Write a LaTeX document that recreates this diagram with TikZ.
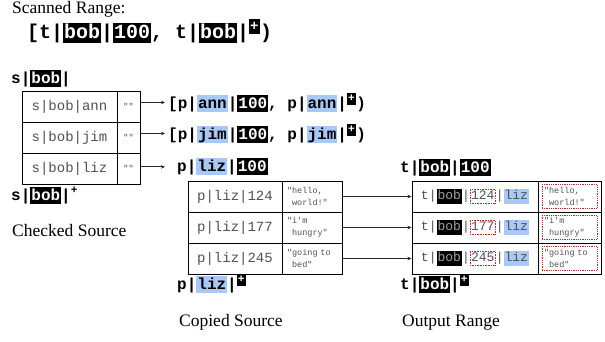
\documentclass[tikz,border=0pt]{standalone}
\usepackage{fontspec}
\setmainfont{Liberation Serif}
\setmonofont{Liberation Mono}
\usetikzlibrary{positioning, arrows.meta}

\definecolor{keyblue}{HTML}{A8C8F8}
\definecolor{celltext}{HTML}{505050}
\definecolor{bobgray}{HTML}{A0A0A0}
\definecolor{dotred}{HTML}{C8282D}

\newcommand{\fnttitle}{\fontsize{20}{24}\selectfont\ttfamily\bfseries}
\newcommand{\fnthead}{\fontsize{16}{19}\selectfont\ttfamily\bfseries}
\newcommand{\fntkey}{\fontsize{14}{17}\selectfont\ttfamily}
\newcommand{\fntout}{\fontsize{13}{16}\selectfont\ttfamily}
\newcommand{\fntval}{\fontsize{8.5}{12}\selectfont\ttfamily}
\newcommand{\fntcap}{\fontsize{17.5}{21}\selectfont\rmfamily}

% highlighted key parts
\newcommand{\hk}[1]{{\setlength{\fboxsep}{1pt}\colorbox{black}{\vphantom{[}\textcolor{white}{#1}}}}
\newcommand{\hkg}[1]{{\setlength{\fboxsep}{1pt}\colorbox{black}{\vphantom{[}\textcolor{bobgray}{#1}}}}
\newcommand{\hb}[1]{{\setlength{\fboxsep}{1pt}\colorbox{keyblue}{\vphantom{[}#1}}}
\newcommand{\hplus}{\textsuperscript{\hk{+}}}
\newcommand{\hr}[1]{\tikz[baseline=(hr.base)]\node[draw=dotred, densely dotted, line width=0.6pt, inner sep=1pt, minimum width=0pt, minimum height=0pt] (hr) {\vphantom{[}#1};}

\begin{document}
\begin{tikzpicture}[x=1pt, y=-1pt, >={Stealth[length=4pt, width=3.5pt]},
    cell/.style={draw, line width=1pt, minimum height=31pt, inner sep=0pt, text=celltext},
    keycell/.style={cell, font=\fntkey},
    outcell/.style={cell, font=\fntout},
    valcell/.style={cell, font=\fntval, align=left, text width=50pt},
    valbox/.style={draw=dotred, densely dotted, line width=0.8pt, minimum width=55pt, minimum height=24pt, inner sep=0pt, font=\fntval, text=celltext, align=left, text width=51pt},
    head/.style={anchor=base west, inner sep=0pt, font=\fnthead},
    caption/.style={anchor=base west, inner sep=0pt, font=\fntcap},
    link/.style={line width=0.8pt, draw=black!85}]
    \useasboundingbox (0,0) rectangle (605,341);

    % scanned range
    \node[caption] (scan) at (12,13) {Scanned Range:};
    \node[anchor=base west, inner sep=0pt, font=\fnttitle] (range) at (27,38) {[t|\hk{bob}|\hk{100}, t|\hk{bob}|\hplus)};

    % checked source
    \node[head] (sbob) at (11,83) {s|\hk{bob}|};
    \node[keycell, minimum width=95pt] (ck1) at (69.5,106.5) {s|bob|ann};
    \node[cell, minimum width=23pt, font=\fntval] (cv1) at (128.5,106.5) {""};
    \node[keycell, minimum width=95pt] (ck2) at (69.5,137.5) {s|bob|jim};
    \node[cell, minimum width=23pt, font=\fntval] (cv2) at (128.5,137.5) {""};
    \node[keycell, minimum width=95pt] (ck3) at (69.5,168.5) {s|bob|liz};
    \node[cell, minimum width=23pt, font=\fntval] (cv3) at (128.5,168.5) {""};
    \node[head] (sbobend) at (11,200) {s|\hk{bob}|\textsuperscript{+}};
    \node[caption] (checked) at (12,236) {Checked Source};

    \node[head] (ann) at (168,108) {[p|\hb{ann}|\hk{100}, p|\hb{ann}|\hplus)};
    \node[head] (jim) at (168,139) {[p|\hb{jim}|\hk{100}, p|\hb{jim}|\hplus)};
    \node[head] (liz) at (177,171) {p|\hb{liz}|\hk{100}};

    \draw[->, link, shorten >=3pt] (cv1.east |- ann.west) -- (ann.west);
    \draw[->, link, shorten >=3pt] (cv2.east |- jim.west) -- (jim.west);
    \draw[->, link, shorten >=12pt] (cv3.east |- liz.west) -- (liz.west);

    % copied source
    \node[keycell, minimum width=94pt] (pk1) at (235,196.5) {p|liz|124};
    \node[valcell, minimum width=60pt] (pv1) at (312,196.5) {"hello,\\\phantom{"}world!"};
    \node[keycell, minimum width=94pt] (pk2) at (235,227.5) {p|liz|177};
    \node[valcell, minimum width=60pt] (pv2) at (312,227.5) {"i'm\\\phantom{"}hungry"};
    \node[keycell, minimum width=94pt] (pk3) at (235,258.5) {p|liz|245};
    \node[valcell, minimum width=60pt] (pv3) at (312,258.5) {"going to\\\phantom{"}bed"};
    \node[head] (lizend) at (177,289) {p|\hb{liz}|\hplus};
    \node[caption] (copied) at (179,326) {Copied Source};

    % output range
    \node[head] (tbob) at (400,172) {t|\hk{bob}|\hk{100}};
    \node[outcell, minimum width=126pt] (ok1) at (475,196.5) {t|\hkg{bob}|\hr{124}|\hb{liz}};
    \node[cell, minimum width=63pt] (ov1) at (569.5,196.5) {};
    \node[valbox] (ob1) at (ov1) {"hello,\\\phantom{"}world!"};
    \node[outcell, minimum width=126pt] (ok2) at (475,227.5) {t|\hkg{bob}|\hr{177}|\hb{liz}};
    \node[cell, minimum width=63pt] (ov2) at (569.5,227.5) {};
    \node[valbox] (ob2) at (ov2) {"i'm\\\phantom{"}hungry"};
    \node[outcell, minimum width=126pt] (ok3) at (475,258.5) {t|\hkg{bob}|\hr{245}|\hb{liz}};
    \node[cell, minimum width=63pt] (ov3) at (569.5,258.5) {};
    \node[valbox] (ob3) at (ov3) {"going to\\\phantom{"}bed"};
    \node[head] (tbobend) at (400,289) {t|\hk{bob}|\hplus};
    \node[caption] (output) at (402,326) {Output Range};

    \draw[->, link] (pv1.east) -- (ok1.west);
    \draw[->, link] (pv2.east) -- (ok2.west);
    \draw[->, link] (pv3.east) -- (ok3.west);
\end{tikzpicture}
\end{document}
